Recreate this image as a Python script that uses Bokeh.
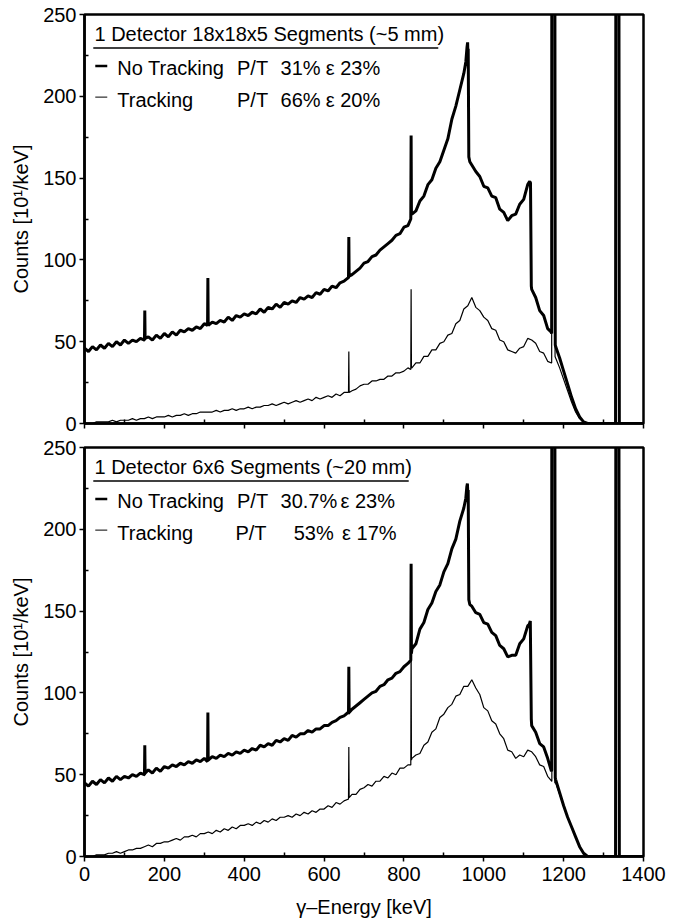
from bokeh.plotting import figure
from bokeh.layouts import column
from bokeh.models import Range1d, FixedTicker, Label
from bokeh.embed import file_html
from bokeh.resources import INLINE

# ---------------- data ----------------
# continuum sampled every 10 keV from 0 to 1400 keV
grid_energy = list(range(0, 1410, 10))

# Top panel: 18x18x5 segments
top_notrack = [
    46, 44, 47, 45, 48, 46, 49, 47, 50, 48,
    51, 49, 51, 50, 52, 51, 53, 51, 54, 52,
    55, 53, 56, 54, 57, 56, 58, 57, 59, 58,
    61, 60, 62, 61, 63, 62, 65, 63, 66, 65,
    67, 66, 68, 67, 70, 68, 71, 70, 73, 71,
    74, 73, 75, 74, 77, 76, 78, 77, 80, 79,
    82, 81, 84, 83, 86, 87, 89, 91, 93, 95,
    98, 99, 102, 103, 106, 108, 110, 112, 115, 116,
    120, 121, 128, 130, 136, 139, 146, 149, 156, 160,
    167, 174, 186, 194, 204, 214, 228, 158, 154, 151,
    145, 144, 139, 138, 131, 129, 124, 127, 128, 134,
    137, 146, 82, 77, 69, 66, 58, 55, 47, 40,
    32, 24, 16, 9, 4, 1, 0, 0, 0, 0,
    0, 0, 0, 0, 0, 0, 0, 0, 0, 0,
    0,
]
top_notrack_extra_e = [150.2, 151, 151.8, 308.2, 309, 309.8, 661.2, 662, 662.8,
                       817.2, 818, 818.8, 955, 958, 959.5, 961, 962.5, 965,
                       1115, 1117, 1119, 1168.5, 1170.5, 1177.5, 1179,
                       1329.5, 1331, 1338, 1339.5]
top_notrack_extra_c = [51, 69, 52, 60, 89, 61, 89, 114, 90,
                       125, 176, 128, 221, 230, 233, 229, 163, 160,
                       148, 147, 84, 56, 400, 400, 48,
                       0, 400, 400, 0]

top_track = [
    0, 0, 0, 1, 1, 1, 1, 2, 1, 2,
    2, 2, 3, 2, 3, 3, 4, 3, 4, 4,
    4, 5, 4, 5, 5, 6, 5, 6, 6, 7,
    7, 7, 7, 8, 7, 8, 8, 9, 8, 9,
    9, 10, 9, 10, 10, 11, 11, 12, 11, 12,
    13, 12, 13, 14, 13, 14, 15, 14, 16, 15,
    16, 17, 16, 18, 17, 19, 19, 20, 21, 23,
    24, 24, 26, 26, 27, 27, 29, 29, 31, 31,
    32, 34, 34, 37, 37, 41, 41, 45, 45, 49,
    50, 54, 55, 61, 63, 70, 72, 77, 71, 69,
    65, 63, 58, 57, 51, 50, 45, 44, 43, 46,
    47, 52, 51, 49, 44, 43, 38, 37, 40, 34,
    27, 20, 13, 7, 3, 1, 0, 0, 0, 0,
    0, 0, 0, 0, 0, 0, 0, 0, 0, 0,
    0,
]
top_track_extra_e = [661.2, 662, 662.8, 817.2, 818, 818.8,
                     1169.5, 1171.5, 1176.5, 1178.5, 1330, 1332, 1337, 1339]
top_track_extra_c = [19, 44, 19, 33, 82, 34,
                     37, 400, 400, 41, 0, 400, 400, 0]

# Bottom panel: 6x6 segments
bot_notrack = [
    45, 43, 46, 44, 47, 45, 48, 46, 49, 47,
    49, 48, 50, 49, 51, 50, 53, 51, 54, 52,
    55, 54, 56, 55, 57, 56, 58, 57, 59, 58,
    60, 59, 61, 60, 62, 61, 63, 62, 64, 63,
    65, 64, 66, 65, 68, 67, 69, 68, 71, 70,
    72, 71, 74, 73, 75, 75, 77, 76, 78, 78,
    80, 80, 82, 83, 85, 86, 88, 90, 92, 94,
    96, 98, 100, 101, 104, 105, 108, 109, 112, 113,
    116, 118, 127, 130, 139, 143, 151, 155, 162, 166,
    174, 179, 188, 194, 205, 213, 222, 153, 149, 148,
    143, 142, 137, 135, 129, 127, 122, 123, 123, 130,
    133, 141, 80, 76, 69, 67, 60, 53, 47, 39,
    31, 24, 18, 12, 6, 2, 0, 0, 0, 0,
    0, 0, 0, 0, 0, 0, 0, 0, 0, 0,
    0,
]
bot_notrack_extra_e = [150.2, 151, 151.8, 308.2, 309, 309.8, 661.2, 662, 662.8,
                       817.2, 818, 818.8, 955, 957.5, 959, 961, 962.5, 965,
                       1114, 1116.5, 1119, 1169.5, 1170.5, 1177.5, 1179,
                       1329.5, 1331, 1338, 1339.5]
bot_notrack_extra_c = [50, 68, 51, 58, 88, 59, 87, 116, 88,
                       120, 179, 124, 219, 226, 228, 224, 157, 154,
                       142, 144, 84, 52, 400, 400, 48,
                       0, 400, 400, 0]

bot_track = [
    0, 0, 0, 1, 1, 1, 2, 2, 3, 2,
    3, 4, 4, 5, 5, 6, 7, 6, 8, 8,
    9, 9, 10, 11, 10, 12, 12, 13, 12, 14,
    14, 15, 14, 16, 15, 17, 16, 18, 17, 19,
    19, 20, 19, 21, 20, 22, 21, 23, 22, 24,
    24, 25, 24, 26, 25, 27, 26, 28, 27, 29,
    29, 31, 30, 33, 32, 34, 35, 38, 38, 41,
    42, 44, 43, 46, 46, 49, 48, 51, 50, 54,
    54, 56, 60, 62, 63, 68, 70, 76, 78, 85,
    87, 91, 93, 98, 99, 104, 104, 108, 103, 99,
    91, 89, 83, 81, 75, 72, 65, 64, 60, 62,
    61, 65, 64, 61, 56, 55, 49, 46, 45, 38,
    31, 24, 18, 12, 6, 2, 0, 0, 0, 0,
    0, 0, 0, 0, 0, 0, 0, 0, 0, 0,
    0,
]
bot_track_extra_e = [661.2, 662, 662.8, 817.2, 818, 818.8,
                     1170.5, 1172, 1176.5, 1178, 1330, 1332, 1337, 1339]
bot_track_extra_c = [35, 67, 36, 56, 130, 59,
                     46, 400, 400, 45, 0, 400, 400, 0]

x_ticks = [0, 200, 400, 600, 800, 1000, 1200, 1400]
x_minor = [100, 300, 500, 700, 900, 1100, 1300]
y_ticks = [0, 50, 100, 150, 200, 250]
y_minor = [25, 75, 125, 175, 225]

top_title = "1 Detector 18x18x5 Segments (~5 mm)"
top_rows = [["No Tracking", "P/T", "31%", "\u03b5 23%"],
            ["Tracking", "P/T", "66%", "\u03b5 20%"]]
bot_title = "1 Detector 6x6 Segments (~20 mm)"
bot_rows = [["No Tracking", "P/T", "30.7%", "\u03b5 23%"],
            ["Tracking", "P/T", "53%", "\u03b5 17%"]]

FONT = "Liberation Sans"
FS = "20px"


def build(grid_c, ex_e, ex_c):
    pts = list(zip(grid_energy, grid_c)) + list(zip(ex_e, ex_c))
    pts.sort(key=lambda t: t[0])
    return [p[0] for p in pts], [p[1] for p in pts]


def make_panel(notrack, nt_e, nt_c, track, t_e, t_c, title, rows, row_x,
               title_end, bottom):
    p = figure(frame_width=559, frame_height=409,
               x_range=Range1d(0, 1400), y_range=Range1d(0, 250),
               output_backend="svg", toolbar_location=None,
               min_border_left=84, min_border_right=33,
               min_border_top=14 if not bottom else 12,
               min_border_bottom=12 if not bottom else 64)
    p.grid.visible = False
    p.background_fill_color = "white"
    p.border_fill_color = "white"
    p.outline_line_color = "black"
    p.outline_line_width = 2.5
    p.outline_line_alpha = 1

    for ax in (p.xaxis[0], p.yaxis[0]):
        ax.axis_line_width = 2.5
        ax.major_tick_line_width = 1.5
        ax.minor_tick_line_width = 1.5
        ax.major_label_text_font = FONT
        ax.major_label_text_font_size = FS
        ax.major_label_text_color = "black"
        ax.axis_label_text_font = FONT
        ax.axis_label_text_font_size = FS
        ax.axis_label_text_font_style = "normal"
        ax.axis_label_text_color = "black"
        ax.major_tick_out = 5
        ax.major_tick_in = 0
        ax.minor_tick_out = 0
        ax.minor_tick_in = 4

    p.xaxis.ticker = FixedTicker(ticks=x_ticks, minor_ticks=x_minor)
    p.yaxis.ticker = FixedTicker(ticks=y_ticks, minor_ticks=y_minor)
    p.yaxis.axis_label = "Counts [10\u00b9/keV]"
    p.yaxis.axis_label_standoff = 8
    p.yaxis.major_label_standoff = 3

    if bottom:
        p.xaxis.axis_label = "\u03b3\u2013Energy [keV]"
        p.xaxis.major_label_standoff = 5
        p.xaxis.axis_label_standoff = 12
    else:
        p.xaxis.major_label_text_font_size = "1px"
        p.xaxis.major_label_text_color = None
        p.xaxis.major_label_standoff = 0

    ex, cy = build(track, t_e, t_c)
    p.line(ex, cy, line_color="black", line_width=1.2, line_join="bevel")
    ex, cy = build(notrack, nt_e, nt_c)
    p.line(ex, cy, line_color="black", line_width=3.0, line_join="bevel")

    # legend block
    p.add_layout(Label(x=25, y=238, text=title, text_font=FONT,
                       text_font_size=FS, text_baseline="middle",
                       text_color="black"))
    p.segment(x0=[22], y0=[229.5], x1=[title_end], y1=[229.5],
              line_color="black", line_width=1.5)
    ys = [217, 198]
    widths = [2.6, 1.0]
    for r, row in enumerate(rows):
        p.segment(x0=[27], y0=[ys[r] + 1.5], x1=[57], y1=[ys[r] + 1.5],
                  line_color="black", line_width=widths[r])
        for txt, xx in zip(row, row_x[r]):
            p.add_layout(Label(x=xx, y=ys[r], text=txt, text_font=FONT,
                               text_font_size=FS, text_baseline="middle",
                               text_color="black"))
    return p


top = make_panel(top_notrack, top_notrack_extra_e, top_notrack_extra_c,
                 top_track, top_track_extra_e, top_track_extra_c,
                 top_title, top_rows,
                 [[82, 382, 491, 604], [82, 382, 491, 604]], 886, False)
bot = make_panel(bot_notrack, bot_notrack_extra_e, bot_notrack_extra_c,
                 bot_track, bot_track_extra_e, bot_track_extra_c,
                 bot_title, bot_rows,
                 [[82, 382, 491, 641], [82, 378, 524, 645]], 812, True)

layout = column(top, bot, spacing=0)
open("out.html", "w").write(file_html(layout, INLINE))
